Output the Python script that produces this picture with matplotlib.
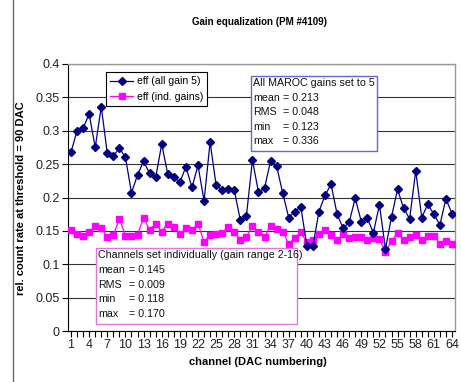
import matplotlib
matplotlib.use("Agg")
import matplotlib.pyplot as plt
from matplotlib.lines import Line2D
from matplotlib.patches import Rectangle
import numpy as np

plt.rcParams['font.family'] = ['Liberation Sans', 'DejaVu Sans']

channels = np.arange(1, 65)

eff_all_gain5 = [
    0.268, 0.300, 0.304, 0.325, 0.275, 0.336, 0.266, 0.262, 0.274, 0.260,
    0.207, 0.234, 0.254, 0.236, 0.230, 0.280, 0.235, 0.231, 0.223, 0.246,
    0.215, 0.248, 0.195, 0.283, 0.218, 0.211, 0.213, 0.211, 0.166, 0.172,
    0.256, 0.208, 0.214, 0.255, 0.247, 0.207, 0.170, 0.179, 0.186, 0.128,
    0.127, 0.179, 0.203, 0.220, 0.175, 0.154, 0.163, 0.199, 0.164, 0.169,
    0.147, 0.189, 0.123, 0.171, 0.212, 0.184, 0.168, 0.240, 0.170, 0.190,
    0.175, 0.159, 0.198, 0.176,
]

eff_ind_gains = [
    0.152, 0.146, 0.143, 0.149, 0.157, 0.154, 0.141, 0.144, 0.168, 0.143,
    0.142, 0.144, 0.170, 0.151, 0.161, 0.149, 0.161, 0.156, 0.145, 0.154,
    0.151, 0.161, 0.133, 0.144, 0.146, 0.147, 0.156, 0.149, 0.137, 0.141,
    0.157, 0.148, 0.141, 0.158, 0.153, 0.149, 0.130, 0.140, 0.148, 0.133,
    0.137, 0.145, 0.151, 0.144, 0.136, 0.146, 0.139, 0.141, 0.141, 0.136,
    0.140, 0.138, 0.118, 0.135, 0.147, 0.137, 0.141, 0.144, 0.137, 0.142,
    0.142, 0.131, 0.135, 0.131,
]

stats_all = ("All MAROC gains set to 5",
             [("mean", "0.213"), ("RMS", "0.048"), ("min", "0.123"), ("max", "0.336")])
stats_ind = ("Channels set individually (gain range 2-16)",
             [("mean", "0.145"), ("RMS", "0.009"), ("min", "0.118"), ("max", "0.170")])

W, H = 461, 382
fig = plt.figure(figsize=(W / 100, H / 100), dpi=100)
fig.patch.set_facecolor("white")


def fx(px):
    return px / W


def fy(py):
    return 1 - py / H


ax = fig.add_axes([fx(68), fy(331), fx(455) - fx(68), fy(64) - fy(331)])

ax.set_xlim(0.5, 64.5)
ax.set_ylim(0, 0.4)
ax.set_yticks(np.arange(0, 0.401, 0.05))
ax.set_yticklabels(["0", "0.05", "0.1", "0.15", "0.2", "0.25", "0.3", "0.35", "0.4"])
ax.set_xticks(channels)
ax.set_xticklabels([str(c) if (c - 1) % 3 == 0 else "" for c in channels])
ax.tick_params(axis="both", labelsize=9, length=4, width=0.8, color="black",
               labelcolor="#222222", pad=2)
ax.yaxis.grid(True, color="#333333", linewidth=0.8)
ax.set_axisbelow(True)
for side in ("top", "right"):
    ax.spines[side].set_color("#999999")
    ax.spines[side].set_linewidth(1.0)
for side in ("left", "bottom"):
    ax.spines[side].set_color("black")
    ax.spines[side].set_linewidth(0.8)

ax.plot(channels, eff_all_gain5, color="#000080", linewidth=0.9, marker="D",
        markersize=3.6, markerfacecolor="#000080", markeredgecolor="#000080",
        label="eff (all gain 5)", zorder=4)
ax.plot(channels, eff_ind_gains, color="#FF00FF", linewidth=0.9, marker="s",
        markersize=4, markerfacecolor="#FF00FF", markeredgecolor="#FF00FF",
        label="eff (ind. gains)", zorder=3)

leg = ax.legend(loc="upper left", bbox_to_anchor=(fx(106), fy(72)),
                bbox_transform=fig.transFigure, fontsize=7.6, frameon=True,
                fancybox=False, edgecolor="black", framealpha=1,
                borderpad=0.4, handlelength=2.2, handletextpad=0.3,
                labelspacing=0.5, borderaxespad=0)
leg.get_frame().set_linewidth(0.8)
leg.set_zorder(6)


def stats_box(x0, y0, x1, y1, edge, title, rows, eq_x, line_h):
    fig.patches.append(Rectangle((fx(x0), fy(y1)), fx(x1) - fx(x0), fy(y0) - fy(y1),
                                 transform=fig.transFigure, facecolor="white",
                                 edgecolor=edge, linewidth=1.0, zorder=7))
    ty = y0 + 7.5
    fig.text(fx(x0 + 2), fy(ty), title, fontsize=7.7, va="center", ha="left",
             color="#111111", zorder=8)
    for i, (name, val) in enumerate(rows):
        yy = ty + (i + 1) * line_h
        fig.text(fx(x0 + 2), fy(yy), name, fontsize=7.7, va="center", ha="left",
                 color="#111111", zorder=8)
        fig.text(fx(eq_x), fy(yy), "= " + val, fontsize=7.7, va="center", ha="left",
                 color="#111111", zorder=8)


stats_box(251, 76, 377, 151, "#6666CC", stats_all[0], stats_all[1], 283, 14.4)
stats_box(96, 248, 297, 324, "#DD77DD", stats_ind[0], stats_ind[1], 129, 14.6)

fig.text(fx(259), fy(22), "Gain equalization (PM #4109)", fontsize=7,
         fontweight="bold", ha="center", va="center")
fig.text(fx(258), fy(362), "channel (DAC numbering)", fontsize=8,
         fontweight="bold", ha="center", va="center")
fig.text(fx(21), fy(198), "rel. count rate at threshold = 90 DAC", fontsize=8,
         fontweight="bold", ha="center", va="center", rotation=90)

fig.lines.append(Line2D([fx(12.5), fx(12.5)], [0, 1], transform=fig.transFigure,
                        color="#666666", linewidth=1.0))

fig.savefig("out.png", dpi=100, facecolor="white")
